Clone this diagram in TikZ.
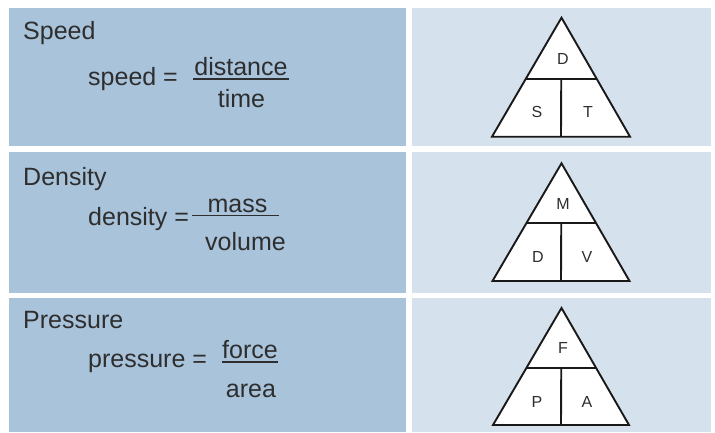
\documentclass[tikz,border=0pt]{standalone}
\usepackage{fontspec}
\setmainfont{Liberation Sans}
\usetikzlibrary{calc}
\definecolor{leftblue}{HTML}{A8C3DA}
\definecolor{rightblue}{HTML}{D5E1ED}
\definecolor{txt}{HTML}{2E2E2E}
\tikzset{
  leftpanel/.style={fill=leftblue, draw=none},
  rightpanel/.style={fill=rightblue, draw=none},
  title/.style={anchor=base west, font=\fontsize{25}{28}\selectfont, text=txt, inner sep=0pt},
  eqtext/.style={anchor=base west, font=\fontsize{25}{28}\selectfont, text=txt, inner sep=0pt},
  fractext/.style={anchor=base, font=\fontsize{25}{28}\selectfont, text=txt, inner sep=0pt},
  fracbar/.style={draw=txt, line width=1.2pt},
  tri/.style={draw=black!90, fill=white, line width=1.9pt, line join=miter},
  triline/.style={draw=black!90, line width=1.9pt},
  trilabel/.style={font=\fontsize{16}{18}\selectfont, text=txt, inner sep=0pt}
}
\begin{document}
\begin{tikzpicture}[x=1pt, y=-1pt]
\useasboundingbox (0,0) rectangle (715,432);
\fill[white] (0,0) rectangle (715,432);

% panels
\path[leftpanel]  (9,8) rectangle (406,146);
\path[rightpanel] (412,8) rectangle (711,146);
\path[leftpanel]  (9,152) rectangle (406,293);
\path[rightpanel] (412,152) rectangle (711,293);
\path[leftpanel]  (9,298) rectangle (406,432);
\path[rightpanel] (412,298) rectangle (711,432);

% ---------- Row 1: Speed ----------
\node[title] (t1) at (23,39) {Speed};
\node[eqtext] (l1) at (88,85) {speed =};
\node[fractext] (n1) at (241,75) {distance};
\coordinate (b1a) at (193,79);
\coordinate (b1b) at (289,79);
\draw[fracbar] (b1a) -- (b1b);
\node[fractext] (d1) at (241.5,107) {time};

\coordinate (a1) at (561.5,17.7);
\coordinate (bl1) at (492,136.7);
\coordinate (br1) at (630,136.7);
\draw[tri] (a1) -- (br1) -- (bl1) -- cycle;
\coordinate (hl1) at ($(a1)!0.513!(bl1)$);
\coordinate (hr1) at ($(a1)!0.513!(br1)$);
\coordinate (vb1) at ($(bl1)!0.5!(br1)$);
\coordinate (vt1) at ($(hl1)!0.5!(hr1)$);
\draw[triline] (hl1) -- (hr1);
\draw[triline] (vt1) -- (vb1);
\node[trilabel] (D1) at (563,59) {D};
\node[trilabel] (S1) at (537,112) {S};
\node[trilabel] (T1) at (588,112) {T};

% ---------- Row 2: Density ----------
\node[title] (t2) at (23,185) {Density};
\node[eqtext] (l2) at (88,225) {density =};
\node[fractext] (n2) at (237.5,212) {mass};
\coordinate (b2a) at (192,215.5);
\coordinate (b2b) at (279,215.5);
\draw[fracbar] (b2a) -- (b2b);
\node[fractext] (d2) at (245.5,250) {volume};

\coordinate (a2) at (561.5,163.3);
\coordinate (bl2) at (492.5,281);
\coordinate (br2) at (629.5,281);
\draw[tri] (a2) -- (br2) -- (bl2) -- cycle;
\coordinate (hl2) at ($(a2)!0.505!(bl2)$);
\coordinate (hr2) at ($(a2)!0.505!(br2)$);
\coordinate (vb2) at ($(bl2)!0.5!(br2)$);
\coordinate (vt2) at ($(hl2)!0.5!(hr2)$);
\draw[triline] (hl2) -- (hr2);
\draw[triline] (vt2) -- (vb2);
\node[trilabel] (M2) at (563,203.5) {M};
\node[trilabel] (D2) at (538,257) {D};
\node[trilabel] (V2) at (587,257) {V};

% ---------- Row 3: Pressure ----------
\node[title] (t3) at (23,328) {Pressure};
\node[eqtext] (l3) at (88,367) {pressure =};
\node[fractext] (n3) at (250,358) {force};
\coordinate (b3a) at (222,362);
\coordinate (b3b) at (278,362);
\draw[fracbar] (b3a) -- (b3b);
\node[fractext] (d3) at (251,397) {area};

\coordinate (a3) at (561.5,308);
\coordinate (bl3) at (493,425);
\coordinate (br3) at (629,425);
\draw[tri] (a3) -- (br3) -- (bl3) -- cycle;
\coordinate (hl3) at ($(a3)!0.511!(bl3)$);
\coordinate (hr3) at ($(a3)!0.511!(br3)$);
\coordinate (vb3) at ($(bl3)!0.5!(br3)$);
\coordinate (vt3) at ($(hl3)!0.5!(hr3)$);
\draw[triline] (hl3) -- (hr3);
\draw[triline] (vt3) -- (vb3);
\node[trilabel] (F3) at (563,348) {F};
\node[trilabel] (P3) at (537,402) {P};
\node[trilabel] (A3) at (587,402) {A};
\end{tikzpicture}
\end{document}
